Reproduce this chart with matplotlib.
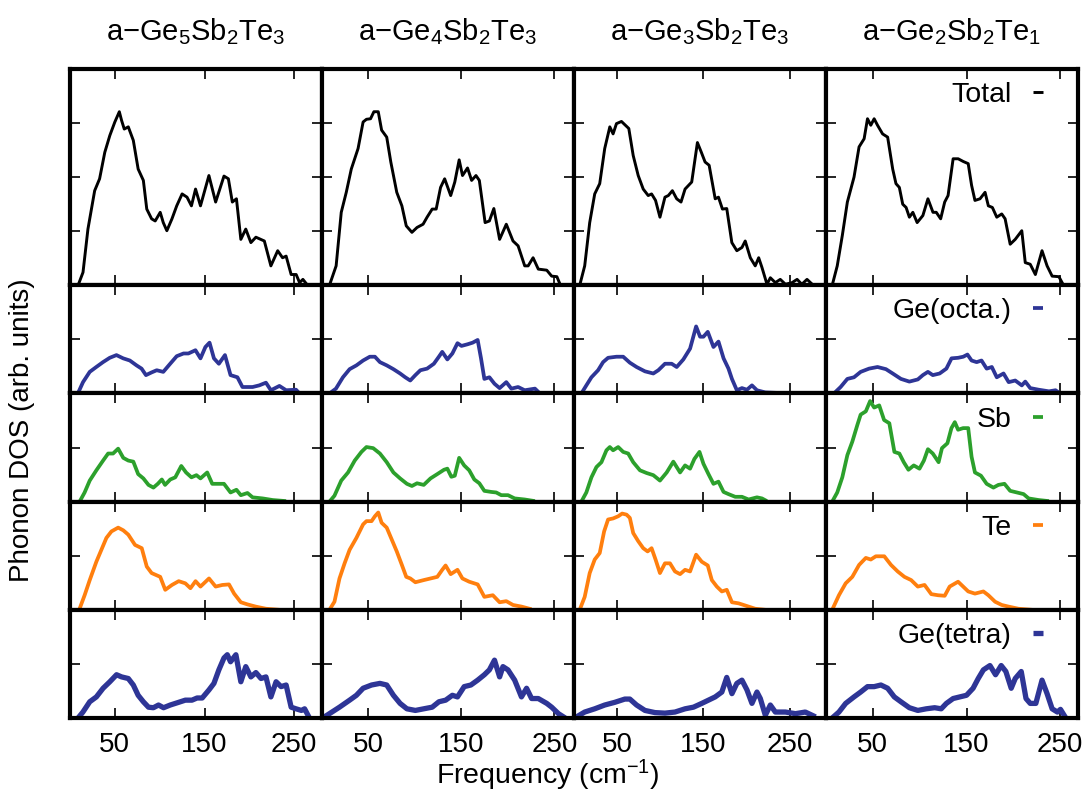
import matplotlib

matplotlib.use("Agg")
import matplotlib.pyplot as plt
import numpy as np

plt.rcParams["font.family"] = ["Liberation Sans", "DejaVu Sans"]
plt.rcParams["mathtext.fontset"] = "custom"
plt.rcParams["mathtext.rm"] = "Liberation Sans"
plt.rcParams["mathtext.it"] = "Liberation Sans"
plt.rcParams["mathtext.default"] = "regular"

# ---- column titles / x ranges ----
titles = [
    "a\u2212Ge$_5$Sb$_2$Te$_3$",
    "a\u2212Ge$_4$Sb$_2$Te$_3$",
    "a\u2212Ge$_3$Sb$_2$Te$_3$",
    "a\u2212Ge$_2$Sb$_2$Te$_1$",
]
xmax = [281, 271, 292, 269]
xticks = [50, 150, 250]
labels = ["Total", "Ge(octa.)", "Sb", "Te", "Ge(tetra)"]
colors = ["#000000", "#2e3596", "#2ca02c", "#ff7f0e", "#2e3596"]
widths = [2.1, 2.7, 2.7, 2.7, 3.8]

# ---- a-Ge5Sb2Te3 ----
ge5_total_f = [9, 14.5, 20, 27.5, 33, 38.8, 44.4, 50, 55, 57.5, 60.5, 65, 70.6, 76, 81.8, 85.6, 91, 95, 100.6,
               104, 108, 113.7, 119, 125, 130.5, 135.4, 140, 145.5, 154.9, 162.4, 171.7, 176.6, 181, 185.6,
               190.5, 196, 201.7, 207.3, 216.7, 224, 231.6, 237, 241, 246.6, 252.2, 256, 259.7, 265]
ge5_total = [0, 0.24, 1.04, 1.75, 1.97, 2.46, 2.77, 3.02, 3.21, 3.05, 2.89, 2.93, 2.68, 2.15, 1.94, 1.41, 1.23,
             1.19, 1.35, 1.16, 1.01, 1.23, 1.47, 1.69, 1.63, 1.47, 1.78, 1.47, 2.03, 1.54, 2.02, 1.97, 1.54,
             1.60, 0.85, 1.04, 0.79, 0.89, 0.82, 0.36, 0.64, 0.51, 0.54, 0.20, 0.20, 0.05, 0.11, 0.0]
ge5_octa_f = [9.3, 14.5, 22, 29.3, 36.8, 44.3, 51.8, 59.3, 66.7, 74.2, 79.8, 84.7, 91, 96.7, 104, 111.7, 119,
              126.6, 132, 139.9, 145.5, 151, 155.6, 160.5, 166, 172.8, 179, 186.7, 192.3, 203.6, 211, 218.5,
              224, 233.5, 241, 252, 256]
ge5_octa = [0.02, 0.21, 0.40, 0.49, 0.58, 0.66, 0.71, 0.65, 0.61, 0.52, 0.46, 0.34, 0.39, 0.43, 0.40, 0.55,
            0.69, 0.74, 0.74, 0.80, 0.65, 0.86, 0.94, 0.65, 0.55, 0.71, 0.34, 0.30, 0.12, 0.12, 0.15, 0.20,
            0.06, 0.14, 0.06, 0.07, 0.0]
ge5_sb_f = [10.7, 16.3, 22, 29.4, 36.9, 42.5, 48, 53.7, 59.4, 65, 70.6, 76, 81.8, 87.5, 93, 97.9, 102.4, 106,
            111.8, 117.4, 124.1, 129.4, 135.4, 141, 145.5, 153, 158.6, 166, 171.7, 179, 185.6, 190.5, 197.9,
            203.6, 214.8, 226, 241]
ge5_sb = [0, 0.17, 0.39, 0.58, 0.76, 0.89, 0.89, 0.98, 0.81, 0.76, 0.74, 0.51, 0.43, 0.31, 0.26, 0.33, 0.41,
          0.31, 0.41, 0.45, 0.66, 0.54, 0.45, 0.49, 0.43, 0.54, 0.33, 0.33, 0.33, 0.17, 0.22, 0.12, 0.16,
          0.08, 0.06, 0.03, 0.01]
ge5_te_f = [10.7, 16.3, 22, 29.4, 35, 40.6, 46.2, 53.7, 59.4, 65, 72.5, 80, 85.6, 91, 100.6, 106.2, 113.7,
            121.2, 128.6, 134.3, 140, 145.5, 155, 162.4, 169.9, 177.3, 183, 190.5, 198, 207, 218.5, 233.5]
ge5_te = [0.02, 0.27, 0.55, 0.89, 1.11, 1.33, 1.45, 1.52, 1.47, 1.39, 1.20, 1.14, 0.80, 0.68, 0.61, 0.37,
          0.46, 0.53, 0.49, 0.40, 0.53, 0.43, 0.58, 0.43, 0.46, 0.47, 0.30, 0.14, 0.10, 0.06, 0.02, 0.0]
ge5_tetra_f = [9, 14.4, 22, 29.4, 36.9, 44.4, 51.9, 57.5, 65, 70.6, 76, 81.8, 87.5, 93, 98.7, 104.3, 111.8,
               121.2, 128.6, 136, 141.7, 147.4, 155, 160.5, 166, 171.7, 175.4, 179, 185, 190.5, 196, 201.7,
               207.3, 213, 218.5, 224, 229.8, 235.4, 241, 246.6, 252, 258, 261.6, 267]
ge5_tetra = [0, 0.11, 0.30, 0.39, 0.55, 0.67, 0.80, 0.76, 0.73, 0.61, 0.42, 0.30, 0.20, 0.19, 0.24, 0.19,
             0.24, 0.29, 0.33, 0.33, 0.37, 0.37, 0.52, 0.64, 0.89, 1.11, 1.17, 1.04, 1.17, 0.67, 0.95, 0.76,
             0.84, 0.73, 0.76, 0.39, 0.67, 0.58, 0.61, 0.20, 0.17, 0.14, 0.17, 0.0]

# ---- a-Ge4Sb2Te3 ----
ge4_total_f = [8, 15.2, 20.7, 26.1, 31.5, 38.8, 44.2, 47.8, 52.2, 55.8, 60.5, 64.1, 69.6, 74, 80.4, 85.9,
               90.6, 96.7, 102.2, 108.7, 113, 118.5, 122.8, 127.5, 131.9, 138.4, 142.8, 147.5, 151.1, 156.5,
               160.9, 165.6, 169.2, 175.4, 180, 184.8, 191, 198.2, 205.4, 210.9, 218, 221.7, 227, 232.6,
               241.7, 247, 252.6, 256]
ge4_total = [0, 0.36, 1.35, 1.72, 2.15, 2.53, 3.02, 3.07, 3.08, 3.21, 3.21, 2.87, 2.74, 2.28, 1.72, 1.47,
             1.10, 0.98, 1.07, 1.13, 1.26, 1.41, 1.41, 1.81, 1.97, 1.66, 1.91, 2.32, 2.03, 2.17, 1.94, 2.03,
             1.94, 1.16, 1.19, 1.42, 0.85, 1.13, 0.82, 0.73, 0.36, 0.36, 0.51, 0.30, 0.28, 0.17, 0.16, 0.02]
ge4_octa_f = [8, 15, 22.5, 29.7, 37, 44.2, 51.4, 56.9, 62.3, 69.6, 76.8, 84, 89.5, 94.9, 100.4, 105.8, 113,
              120.3, 125.7, 129.3, 134.8, 140.2, 145.7, 150, 156.5, 162, 167.4, 171, 174.6, 180, 185.5, 191,
              198.2, 203.6, 210.9, 218, 229, 234.4]
ge4_octa = [0, 0.09, 0.30, 0.45, 0.52, 0.61, 0.68, 0.68, 0.58, 0.52, 0.45, 0.37, 0.30, 0.24, 0.34, 0.43,
            0.46, 0.55, 0.68, 0.77, 0.63, 0.74, 0.93, 0.88, 0.91, 0.94, 0.99, 0.65, 0.27, 0.30, 0.18, 0.10,
            0.21, 0.09, 0.12, 0.06, 0.09, 0.0]
ge4_sb_f = [8, 13.4, 20.7, 28, 35.2, 42.4, 47.8, 55, 62.3, 69.6, 76.8, 84, 91.3, 96.7, 102.2, 109.4, 116.7,
            124, 131.2, 134.8, 139.1, 142.8, 147.5, 152.9, 158.3, 163.8, 169.2, 174.6, 182, 187.3, 192.8, 200,
            207.2, 218, 229]
ge4_sb = [0, 0.11, 0.39, 0.54, 0.76, 0.92, 1.01, 0.99, 0.89, 0.73, 0.54, 0.43, 0.33, 0.29, 0.34, 0.31, 0.43,
          0.51, 0.59, 0.61, 0.46, 0.48, 0.81, 0.67, 0.58, 0.41, 0.34, 0.20, 0.18, 0.17, 0.12, 0.12, 0.06,
          0.04, 0.01]
ge4_te_f = [8, 13.4, 18.8, 24.3, 29.7, 37, 44.2, 47.8, 53.3, 56.9, 60.5, 64.1, 69.6, 75, 80.4, 85.9, 90.6,
            95, 100.4, 109.4, 116.7, 124, 129.3, 132.9, 138.4, 145.7, 151, 158.3, 167.4, 174.6, 183.7, 191,
            198.2, 205.4, 214.5, 225.4]
ge4_te = [0, 0.15, 0.58, 0.86, 1.11, 1.33, 1.58, 1.64, 1.64, 1.73, 1.80, 1.61, 1.52, 1.30, 1.08, 0.83, 0.61,
          0.58, 0.51, 0.55, 0.58, 0.61, 0.74, 0.82, 0.66, 0.74, 0.58, 0.52, 0.47, 0.24, 0.27, 0.14, 0.16,
          0.09, 0.06, 0.01]
ge4_tetra_f = [0.7, 8, 18.8, 29.7, 37, 44.2, 53.3, 62.3, 69.6, 76.8, 84, 91.3, 100.4, 109.4, 118.5, 125.7,
               133, 140.2, 145.7, 152.9, 160.1, 167.4, 174.6, 180, 185.5, 191, 194.6, 200, 207.2, 214.5, 220,
               225.4, 232.6, 241.7, 247, 254.3, 261.6]
ge4_tetra = [0, 0.08, 0.20, 0.33, 0.42, 0.55, 0.61, 0.64, 0.61, 0.42, 0.27, 0.17, 0.14, 0.17, 0.20, 0.30,
             0.33, 0.42, 0.39, 0.58, 0.61, 0.70, 0.80, 0.89, 1.07, 0.76, 0.95, 0.89, 0.70, 0.39, 0.55, 0.36,
             0.36, 0.27, 0.20, 0.08, 0.0]

# ---- a-Ge3Sb2Te3 ----
ge3_total_f = [6.6, 12.4, 18.2, 24, 29.8, 35.6, 41.5, 45.3, 49.2, 55, 58.9, 63.5, 68.6, 74.4, 80.2, 86, 89.9,
               94.5, 99.6, 105.4, 109.3, 114, 119, 124, 128.7, 136.4, 143, 147.3, 151.9, 156.6, 163.6, 167.4,
               172, 177, 182.9, 188.7, 194.6, 198.4, 204.3, 210, 214, 217.8, 223.6, 227.5, 233.3, 239, 245,
               252.7, 258.5, 264, 270, 276]
ge3_total = [0, 0.36, 1.16, 1.69, 1.88, 2.53, 2.93, 2.80, 2.99, 3.03, 2.97, 2.90, 2.40, 2.03, 1.78, 1.66,
             1.69, 1.57, 1.26, 1.63, 1.66, 1.75, 1.60, 1.54, 1.78, 1.91, 2.64, 2.47, 2.28, 2.22, 1.60, 1.63,
             1.41, 1.42, 0.79, 0.64, 0.70, 0.82, 0.51, 0.36, 0.51, 0.33, 0.02, 0.14, 0.05, 0.11, 0.02, 0.05,
             0.11, 0.02, 0.11, 0.02]
ge3_octa_f = [8.5, 14.3, 20.2, 27.9, 33.7, 39.5, 49.2, 57, 64.7, 72.5, 82.2, 91.9, 97.7, 105.4, 113.2, 119,
              126.7, 134.5, 141.5, 146.1, 150, 155, 161.6, 167.4, 173.3, 179, 183, 188.7, 194.6, 200.4, 206.2,
              212, 221.7, 237, 248.8]
ge3_octa = [0, 0.15, 0.30, 0.43, 0.58, 0.66, 0.68, 0.68, 0.57, 0.49, 0.41, 0.37, 0.43, 0.55, 0.55, 0.49,
            0.63, 0.83, 1.24, 1.05, 1.05, 1.14, 0.86, 0.96, 0.65, 0.46, 0.27, 0.06, 0.10, 0.07, 0.15, 0.06,
            0.02, 0.01, 0.0]
ge3_sb_f = [8.5, 14.3, 20.2, 26, 31.8, 37.6, 41.5, 45.3, 51.2, 57, 62.8, 68.6, 76.4, 84.1, 91.9, 99.6, 107.4,
            115.1, 122.9, 128.7, 134.5, 139.5, 145.4, 150, 155.8, 161.6, 167.4, 173.3, 179, 186.8, 194.6,
            202.3, 212, 217.8, 223.6]
ge3_sb = [0, 0.17, 0.45, 0.64, 0.73, 0.95, 1.01, 0.95, 1.01, 0.92, 0.89, 0.73, 0.58, 0.53, 0.49, 0.39, 0.54,
          0.74, 0.54, 0.67, 0.61, 0.79, 0.92, 0.70, 0.51, 0.33, 0.37, 0.18, 0.14, 0.09, 0.09, 0.04, 0.08,
          0.06, 0.01]
ge3_te_f = [6.6, 12.4, 18.2, 24, 29.8, 34.9, 39.5, 45.3, 51.2, 55.8, 60.9, 64.7, 68.6, 74.4, 80.2, 85.3, 89.9,
            94.5, 99.6, 105.4, 111.2, 117, 122.9, 128.7, 134.5, 141.5, 148, 155, 159.7, 165.5, 171.3, 177,
            183, 190.7, 200.4, 210, 221.7]
ge3_te = [0, 0.24, 0.68, 0.93, 1.05, 1.45, 1.67, 1.69, 1.73, 1.78, 1.76, 1.70, 1.42, 1.27, 1.14, 1.08, 1.14,
          0.93, 0.68, 0.86, 0.86, 0.71, 0.66, 0.74, 0.71, 1.02, 0.89, 0.82, 0.55, 0.43, 0.34, 0.37, 0.14,
          0.12, 0.07, 0.02, 0.0]
ge3_tetra_f = [0.8, 12.4, 24, 35.6, 47.3, 58.9, 64.7, 72.5, 82.2, 93.8, 105.4, 117, 128.7, 138.4, 148, 155.8,
               163.6, 171.3, 177, 183, 188.7, 194.6, 200.4, 206.2, 212, 215.9, 221.7, 227.5, 233.3, 245, 256.6,
               268, 280]
ge3_tetra = [0, 0.11, 0.17, 0.24, 0.29, 0.35, 0.35, 0.24, 0.14, 0.10, 0.09, 0.11, 0.17, 0.20, 0.27, 0.33,
             0.39, 0.48, 0.75, 0.45, 0.64, 0.70, 0.52, 0.27, 0.48, 0.36, 0.05, 0.24, 0.11, 0.11, 0.08, 0.11,
             0.02]

# ---- a-Ge2Sb2Te1 ----
ge2_total_f = [6.6, 12, 17.4, 22.8, 29.9, 35.3, 40.7, 44.3, 47.8, 51.4, 55, 60.4, 65.8, 71.2, 74.7, 78.3,
               81.9, 85.5, 89, 92.7, 97.3, 103.4, 108.8, 114.2, 117.7, 122.4, 126.7, 130.3, 135.7, 141.1,
               146.5, 151.8, 155.4, 159, 164.4, 169.8, 173.3, 177.6, 182.3, 187.6, 191.2, 196.6, 202, 209,
               212.7, 218, 223.5, 230.6, 236, 241.4, 248.6, 253]
ge2_total = [0, 0.36, 0.92, 1.54, 2.00, 2.56, 2.71, 3.08, 2.96, 3.08, 2.96, 2.80, 2.74, 2.15, 1.88, 1.81,
             1.50, 1.44, 1.26, 1.35, 1.16, 1.29, 1.60, 1.35, 1.35, 1.23, 1.54, 1.66, 2.34, 2.34, 2.29, 2.25,
             1.85, 1.57, 1.60, 1.72, 1.47, 1.44, 1.26, 1.32, 1.23, 0.76, 0.85, 1.01, 0.42, 0.39, 0.20, 0.64,
             0.36, 0.17, 0.16, 0.02]
ge2_octa_f = [8.4, 15.6, 22.8, 29.9, 37, 46, 55, 64, 71.2, 80, 89, 98, 103.4, 108.8, 114, 121.3, 128.5, 134,
              141, 146.5, 151, 155.4, 160.8, 166, 171.5, 177, 182.3, 189.5, 195, 202, 209, 212.7, 218, 227,
              238, 245, 250]
ge2_octa = [0, 0.12, 0.27, 0.30, 0.40, 0.46, 0.49, 0.45, 0.37, 0.27, 0.22, 0.26, 0.34, 0.40, 0.34, 0.37,
            0.46, 0.65, 0.66, 0.68, 0.72, 0.61, 0.58, 0.61, 0.46, 0.49, 0.30, 0.37, 0.21, 0.24, 0.15, 0.22,
            0.10, 0.07, 0.04, 0.06, 0.0]
ge2_sb_f = [6.6, 12, 17.4, 22.8, 28.1, 33.5, 37, 42.5, 47.1, 51.4, 56.8, 62, 67.6, 73, 78.3, 83, 88, 93.7,
            99.8, 104.5, 108.8, 114, 120.2, 123.8, 129.6, 133.9, 137.5, 141, 146.4, 151.8, 155.4, 159, 165.4,
            171.5, 178.7, 184, 190.5, 196.6, 203.8, 210.9, 216.3, 227, 238]
ge2_sb = [0, 0.17, 0.45, 0.86, 1.11, 1.42, 1.61, 1.67, 1.86, 1.74, 1.78, 1.51, 1.45, 0.92, 0.89, 0.73, 0.59,
          0.67, 0.61, 0.76, 0.97, 0.89, 0.73, 0.99, 1.08, 1.36, 1.47, 1.33, 1.36, 1.36, 0.83, 0.54, 0.48,
          0.33, 0.26, 0.31, 0.33, 0.20, 0.17, 0.14, 0.06, 0.03, 0.01]
ge2_te_f = [6.6, 13.8, 21, 28.1, 35.3, 42.5, 47.8, 53.2, 62.2, 69.4, 76.5, 83.7, 90.9, 98, 105.2, 112.4,
            119.5, 126.7, 132, 141, 146.4, 151.8, 159, 168, 173.3, 180.5, 187.6, 194.8, 205.5, 220]
ge2_te = [0, 0.27, 0.49, 0.61, 0.83, 0.96, 0.93, 0.99, 0.99, 0.83, 0.71, 0.61, 0.55, 0.43, 0.46, 0.29, 0.27,
          0.26, 0.43, 0.52, 0.43, 0.34, 0.30, 0.34, 0.27, 0.15, 0.09, 0.06, 0.02, 0.0]
ge2_tetra_f = [6.6, 13.8, 21, 29.9, 37, 44.3, 51.4, 58.6, 65.8, 72.9, 80, 89, 98, 107, 116, 123, 128.5,
               135.7, 142.8, 150, 157, 162.5, 168, 175, 181, 187, 192, 197.7, 202, 208.4, 213.5, 218, 224,
               230.6, 236, 241.4, 247, 250.3, 256]
ge2_tetra = [0, 0.11, 0.27, 0.39, 0.48, 0.58, 0.58, 0.61, 0.55, 0.39, 0.30, 0.19, 0.14, 0.17, 0.19, 0.17,
             0.27, 0.36, 0.39, 0.42, 0.55, 0.73, 0.89, 0.97, 0.80, 0.97, 0.86, 0.55, 0.73, 0.86, 0.36, 0.27,
             0.27, 0.70, 0.45, 0.17, 0.11, 0.16, 0.0]

columns = [
    [(ge5_total_f, ge5_total), (ge5_octa_f, ge5_octa), (ge5_sb_f, ge5_sb), (ge5_te_f, ge5_te), (ge5_tetra_f, ge5_tetra)],
    [(ge4_total_f, ge4_total), (ge4_octa_f, ge4_octa), (ge4_sb_f, ge4_sb), (ge4_te_f, ge4_te), (ge4_tetra_f, ge4_tetra)],
    [(ge3_total_f, ge3_total), (ge3_octa_f, ge3_octa), (ge3_sb_f, ge3_sb), (ge3_te_f, ge3_te), (ge3_tetra_f, ge3_tetra)],
    [(ge2_total_f, ge2_total), (ge2_octa_f, ge2_octa), (ge2_sb_f, ge2_sb), (ge2_te_f, ge2_te), (ge2_tetra_f, ge2_tetra)],
]

W, H = 1089, 800
fig = plt.figure(figsize=(W / 100, H / 100), dpi=100)
gs = fig.add_gridspec(5, 4, height_ratios=[2, 1, 1, 1, 1], left=70 / W, right=1078 / W,
                      top=1 - 69 / H, bottom=1 - 718 / H, hspace=0, wspace=0)

for c in range(4):
    for r in range(5):
        ax = fig.add_subplot(gs[r, c])
        f, d = columns[c][r]
        line, = ax.plot(f, d, color=colors[r], lw=widths[r], label=labels[r],
                        solid_joinstyle="round", solid_capstyle="butt")
        ax.set_xlim(0, xmax[c])
        if r == 0:
            ax.set_ylim(0, 4)
            ax.set_yticks([1, 2, 3])
        else:
            ax.set_ylim(0, 2)
            ax.set_yticks([1])
        ax.set_xticks(xticks)
        ax.tick_params(direction="in", length=7.5, width=1.2, top=True, right=True,
                       labelleft=False, labelbottom=(r == 4), labelsize=20, pad=10)
        for s in ax.spines.values():
            s.set_linewidth(3)
        if r == 0:
            ax.set_title(titles[c], fontsize=21, pad=21)
        if c == 3:
            h = 217 if r == 0 else 108
            top_y = 1 - 13 / h
            ax.legend(handles=[line], loc="upper right", bbox_to_anchor=(0.862, top_y),
                      frameon=False, markerfirst=False, fontsize=20.5, handlelength=0.35,
                      handletextpad=0.75, borderpad=0, borderaxespad=0)

fig.text(22 / W, 1 - 430 / H, "Phonon DOS (arb. units)", rotation=90, ha="center", va="center", fontsize=20)
fig.text(548 / W, 1 - 775 / H, "Frequency (cm$^{\u22121}$)", ha="center", va="center", fontsize=20.5)

fig.savefig("out.png", dpi=100)
